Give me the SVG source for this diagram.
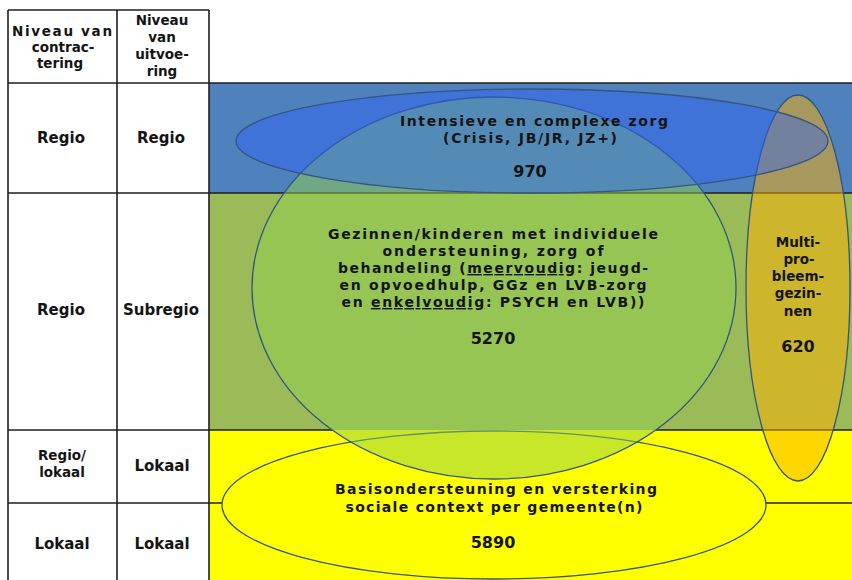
<svg xmlns="http://www.w3.org/2000/svg" width="852" height="580" viewBox="0 0 852 580">
<style>
  .t{font-family:"DejaVu Sans","Liberation Sans",sans-serif;font-weight:bold;font-size:14px;fill:#141414;text-anchor:middle}
  .h{font-size:13.5px}
  .r{font-size:15px}
  .n{font-size:16px}
  .grid{stroke:#1e1e1e;stroke-width:1.6;fill:none}
  .ell{stroke:#34557f;stroke-width:1.3}
  .u{text-decoration:underline}
</style>
<rect x="0" y="0" width="852" height="580" fill="#ffffff"/>
<g id="bands">
  <rect id="band-regio" x="209" y="83" width="643" height="110" fill="#4f81bd"/>
  <rect id="band-subregio" x="209" y="193" width="643" height="237" fill="#9bbb59"/>
  <rect id="band-lokaal" x="209" y="430" width="643" height="150" fill="#ffff00"/>
</g>
<g id="grid" class="grid">
  <line x1="8" y1="10" x2="209" y2="10"/>
  <line x1="8" y1="10" x2="8" y2="580"/>
  <line x1="117" y1="10" x2="117" y2="580"/>
  <line x1="209" y1="10" x2="209" y2="580"/>
  <line x1="8" y1="83" x2="852" y2="83"/>
  <line x1="8" y1="193" x2="852" y2="193"/>
  <line x1="8" y1="430" x2="332" y2="430"/>
  <line x1="656" y1="430" x2="852" y2="430"/>
  <line x1="8" y1="503" x2="852" y2="503"/>
</g>
<g id="basis">
  <ellipse class="ell" cx="494" cy="505" rx="272" ry="74" fill="#ffff00"/>
</g>
<g id="gezinnen">
  <ellipse class="ell" cx="494" cy="288" rx="242" ry="191" fill="#92d050" fill-opacity="0.5"/>
</g>
<g id="multi">
  <ellipse class="ell" cx="798" cy="288" rx="52" ry="193" fill="#ffaf00" fill-opacity="0.5"/>
</g>
<g id="intensief">
  <ellipse class="ell" cx="532" cy="141" rx="296" ry="52" fill="#275eff" fill-opacity="0.4"/>
</g>
<g id="table-labels">
  <text class="t h" x="62" y="36" textLength="100" lengthAdjust="spacing">Niveau  van</text>
  <text class="t h" x="63" y="52">contrac-</text>
  <text class="t h" x="60" y="68">tering</text>
  <text class="t h" x="162" y="25">Niveau</text>
  <text class="t h" x="162" y="42">van</text>
  <text class="t h" x="162" y="59">uitvoe-</text>
  <text class="t h" x="162" y="76">ring</text>
  <text class="t r" x="61" y="143">Regio</text>
  <text class="t r" x="161" y="143">Regio</text>
  <text class="t r" x="61" y="315">Regio</text>
  <text class="t r" x="161" y="315">Subregio</text>
  <text class="t h" x="62" y="460">Regio/</text>
  <text class="t h" x="62" y="477">lokaal</text>
  <text class="t r" x="162" y="471">Lokaal</text>
  <text class="t r" x="62" y="549">Lokaal</text>
  <text class="t r" x="162" y="549">Lokaal</text>
</g>
<g id="intensief-text">
  <text class="t" x="534" y="126" textLength="268" lengthAdjust="spacing">Intensieve  en  complexe  zorg</text>
  <text class="t" x="530" y="143" textLength="174" lengthAdjust="spacing">(Crisis,  JB/JR, JZ+)</text>
  <text class="t n" x="530" y="177">970</text>
</g>
<g id="gezinnen-text">
  <text class="t" x="493" y="239" textLength="330" lengthAdjust="spacing">Gezinnen/kinderen  met individuele</text>
  <text class="t" x="493" y="256" textLength="221" lengthAdjust="spacing">ondersteuning,  zorg  of</text>
  <text class="t" x="493" y="273" textLength="310" lengthAdjust="spacing">behandeling  (<tspan class="u">meervoudig</tspan>:  jeugd-</text>
  <text class="t" x="493" y="290" textLength="307" lengthAdjust="spacing">en  opvoedhulp,  GGz en LVB-zorg</text>
  <text class="t" x="493" y="307" textLength="303" lengthAdjust="spacing">en  <tspan class="u">enkelvoudig</tspan>:  PSYCH  en LVB))</text>
  <text class="t n" x="493" y="344">5270</text>
</g>
<g id="multi-text">
  <text class="t h" x="798" y="247">Multi-</text>
  <text class="t h" x="799" y="264">pro-</text>
  <text class="t h" x="798" y="281">bleem-</text>
  <text class="t h" x="798" y="298">gezin-</text>
  <text class="t h" x="798" y="316">nen</text>
  <text class="t n" x="798" y="352">620</text>
</g>
<g id="basis-text">
  <text class="t" x="496" y="494" textLength="322" lengthAdjust="spacing">Basisondersteuning  en  versterking</text>
  <text class="t" x="494" y="512" textLength="297" lengthAdjust="spacing">sociale  context per gemeente(n)</text>
  <text class="t n" x="493" y="548">5890</text>
</g>
</svg>
